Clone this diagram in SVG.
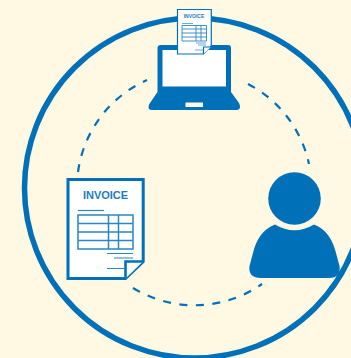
<svg xmlns="http://www.w3.org/2000/svg" width="351" height="358" viewBox="0 0 351 358">
<style>
.b{fill:#0071b9}
.d{fill:none;stroke:#0071b9;stroke-width:2.200;stroke-dasharray:8 8.5}
.p{fill:#fff;stroke:#0071b9}
.l{fill:none;stroke:#2a86c5}
.t{font-family:"Liberation Sans",Arial,sans-serif;font-weight:700;fill:#1a7dc0;text-anchor:middle}
</style>
<rect width="351" height="358" fill="#fff8e2"/>
<circle id="ring" cx="194.500" cy="188" r="170" fill="none" stroke="#0071b9" stroke-width="5.500"/>
<g id="connectors">
<path class="d" d="M78 172A118 118 0 0 1 147 80"/>
<path class="d" d="M248 84A118 118 0 0 1 309 164"/>
<path class="d" d="M133 288A118 118 0 0 0 262 284"/>
</g>
<g id="laptop">
<path class="b" d="M161 45H228Q231 45 231 48V92L239 103Q240 105 240 107Q240 110 236 110H152Q148.500 110 148.500 107Q148.500 105 150 103L157.500 92V48Q157.500 45 161 45Z"/>
<rect x="162.500" y="50" width="63.500" height="36.500" fill="#fff"/>
<rect x="185.500" y="102.500" width="17.500" height="4.500" fill="#fff8e2"/>
</g>
<g id="small-invoice">
<path class="p" d="M177.500 9.500H211.300V46L203.500 54H177.500Z" stroke-width="1.200"/>
<path d="M203.500 54V47H211" fill="#fff" stroke="#0071b9" stroke-width="1.200"/>
<text class="t" x="194" y="18" font-size="5">INVOICE</text>
<path class="l" stroke-width=".7" d="M182 23.500H193"/>
<path class="l" stroke-width=".9" d="M182 25.500H206.500V41H182ZM182 29H206.500M182 33H206.500M182 37H206.500M196 25.500V41M201 25.500V41"/>
<path class="l" stroke-width=".7" d="M196 43H206M198 45H206M195 50H203"/>
</g>
<g id="invoice">
<path class="p" d="M68 179.500H143.200V261.500L125.500 278.500H68Z" stroke-width="3"/>
<path d="M125.500 278.500V261.500H143" fill="#fff" stroke="#0071b9" stroke-width="2.600"/>
<text class="t" x="105.500" y="199" font-size="11">INVOICE</text>
<path class="l" stroke-width="1.200" d="M78 210.500H104"/>
<path class="l" stroke-width="1.500" d="M78 215H133V249H78ZM78 223.500H133M78 232H133M78 240.500H133M108.500 215V249M118.500 215V249"/>
<path class="l" stroke-width="1.200" d="M107 253.500H133M114 258H133M107 268.500H125"/>
</g>
<g id="person">
<circle class="b" cx="294.500" cy="198.500" r="26.300"/>
<path class="b" d="M275 224.500Q294.500 236 314 224.500C326 229 333 240 336 253L339.500 266Q341 278 329 278H261Q248 278 249.500 266L253 253C256 240 263 229 275 224.500Z"/>
</g>
</svg>
